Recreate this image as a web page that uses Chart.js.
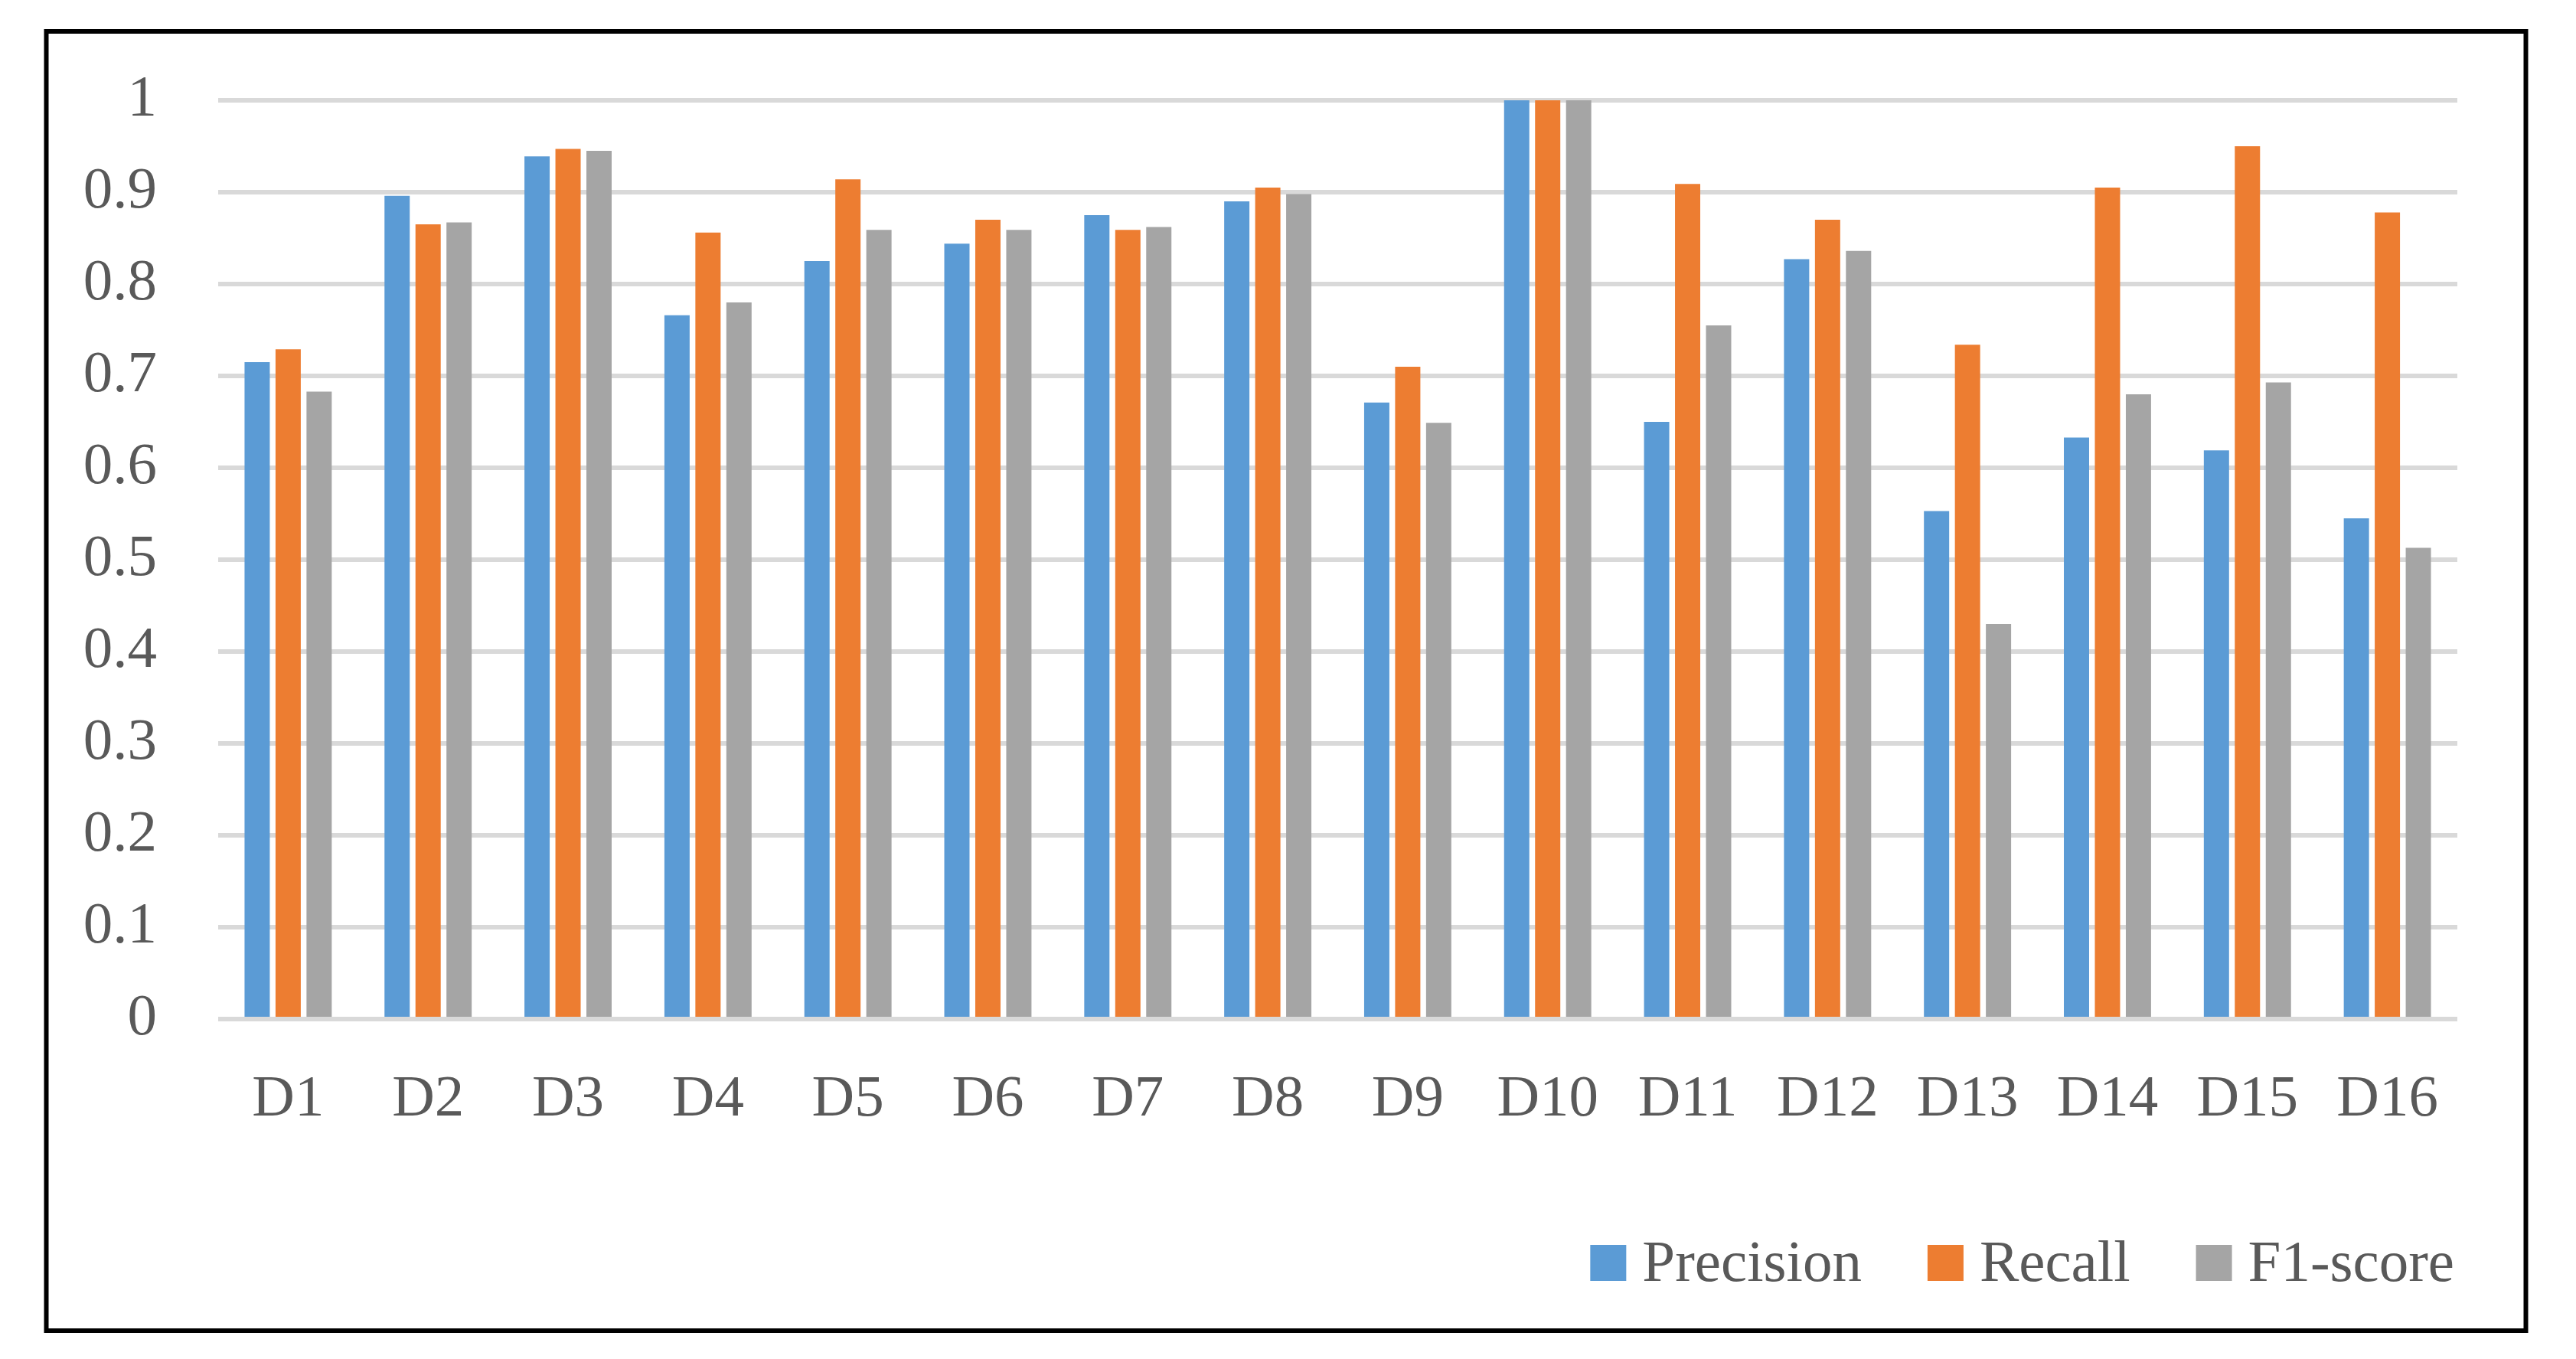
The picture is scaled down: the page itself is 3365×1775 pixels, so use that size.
<!DOCTYPE html>
<html>
<head>
<meta charset="utf-8">
<script src="https://cdn.jsdelivr.net/npm/chart.js@4.4.1/dist/chart.umd.min.js"></script>
<style>
  html, body { margin: 0; padding: 0; background: #ffffff; overflow: hidden; }
  canvas { display: block; }
</style>
</head>
<body>
<canvas id="c" width="3365" height="1775"></canvas>
<script>
const categories = ['D1','D2','D3','D4','D5','D6','D7','D8','D9','D10','D11','D12','D13','D14','D15','D16'];
const seriesNames = ['Precision', 'Recall', 'F1-score'];
const precision = [0.715, 0.896, 0.939, 0.766, 0.825, 0.844, 0.875, 0.890, 0.671, 1.000, 0.650, 0.827, 0.553, 0.633, 0.619, 0.545];
const recall    = [0.729, 0.865, 0.947, 0.856, 0.914, 0.870, 0.859, 0.905, 0.710, 1.000, 0.909, 0.870, 0.734, 0.905, 0.950, 0.878];
const f1score   = [0.683, 0.867, 0.945, 0.780, 0.859, 0.859, 0.862, 0.898, 0.649, 1.000, 0.755, 0.836, 0.430, 0.680, 0.693, 0.513];
const yMin = 0, yMax = 1, yStep = 0.1;

const colors = ['#5B9BD5', '#ED7D31', '#A5A5A5'];
const FONT = '"Liberation Serif", "Times New Roman", serif';
const FS = 77;
const TEXT = '#595959';

const frame = {
  id: 'frame',
  afterDraw(chart) {
    const ctx = chart.ctx;
    ctx.save();
    ctx.strokeStyle = '#000000';
    ctx.lineWidth = 6;
    ctx.strokeRect(60.5, 41, 3299.5 - 60.5, 1738 - 41);
    ctx.restore();
  }
};

const customLegend = {
  id: 'customLegend',
  afterDraw(chart) {
    const ctx = chart.ctx;
    const ds = chart.data.datasets;
    ctx.save();
    ctx.font = FS + 'px ' + FONT;
    ctx.textBaseline = 'alphabetic';
    ctx.textAlign = 'left';
    let right = chart.chartArea.right - 4;
    const baseY = 1673, box = 47, gapText = 21, gapItem = 86;
    for (let i = ds.length - 1; i >= 0; i--) {
      const w = ctx.measureText(ds[i].label).width;
      const tx = right - w;
      const bx = tx - gapText - box;
      ctx.fillStyle = ds[i].backgroundColor;
      ctx.fillRect(bx, baseY - box, box, box);
      ctx.fillStyle = TEXT;
      ctx.fillText(ds[i].label, tx, baseY);
      right = bx - gapItem;
    }
    ctx.restore();
  }
};

new Chart(document.getElementById('c'), {
  type: 'bar',
  data: {
    labels: categories,
    datasets: [
      { label: seriesNames[0], data: precision, backgroundColor: colors[0] },
      { label: seriesNames[1], data: recall,    backgroundColor: colors[1] },
      { label: seriesNames[2], data: f1score,   backgroundColor: colors[2] }
    ]
  },
  options: {
    responsive: false,
    animation: false,
    devicePixelRatio: 1,
    layout: { padding: { left: 0, right: 155, top: 131, bottom: 0 } },
    datasets: { bar: { categoryPercentage: 0.664, barPercentage: 0.815 } },
    plugins: {
      legend: { display: false },
      tooltip: { enabled: false },
      title: { display: false }
    },
    scales: {
      x: {
        grid: { display: false, drawTicks: false },
        border: { display: false },
        ticks: {
          font: { family: FONT, size: FS },
          color: TEXT,
          padding: 60,
          maxRotation: 0,
          autoSkip: false
        },
        afterFit(scale) { scale.height = 444; }
      },
      y: {
        min: yMin,
        max: yMax,
        grid: { color: '#D9D9D9', lineWidth: 6, drawTicks: false },
        border: { display: false },
        ticks: {
          stepSize: yStep,
          font: { family: FONT, size: FS },
          color: TEXT,
          padding: 80,
          callback: (v) => String(+Number(v).toFixed(1))
        },
        afterFit(scale) { scale.width = 285; }
      }
    }
  },
  plugins: [frame, customLegend]
});
</script>
</body>
</html>
